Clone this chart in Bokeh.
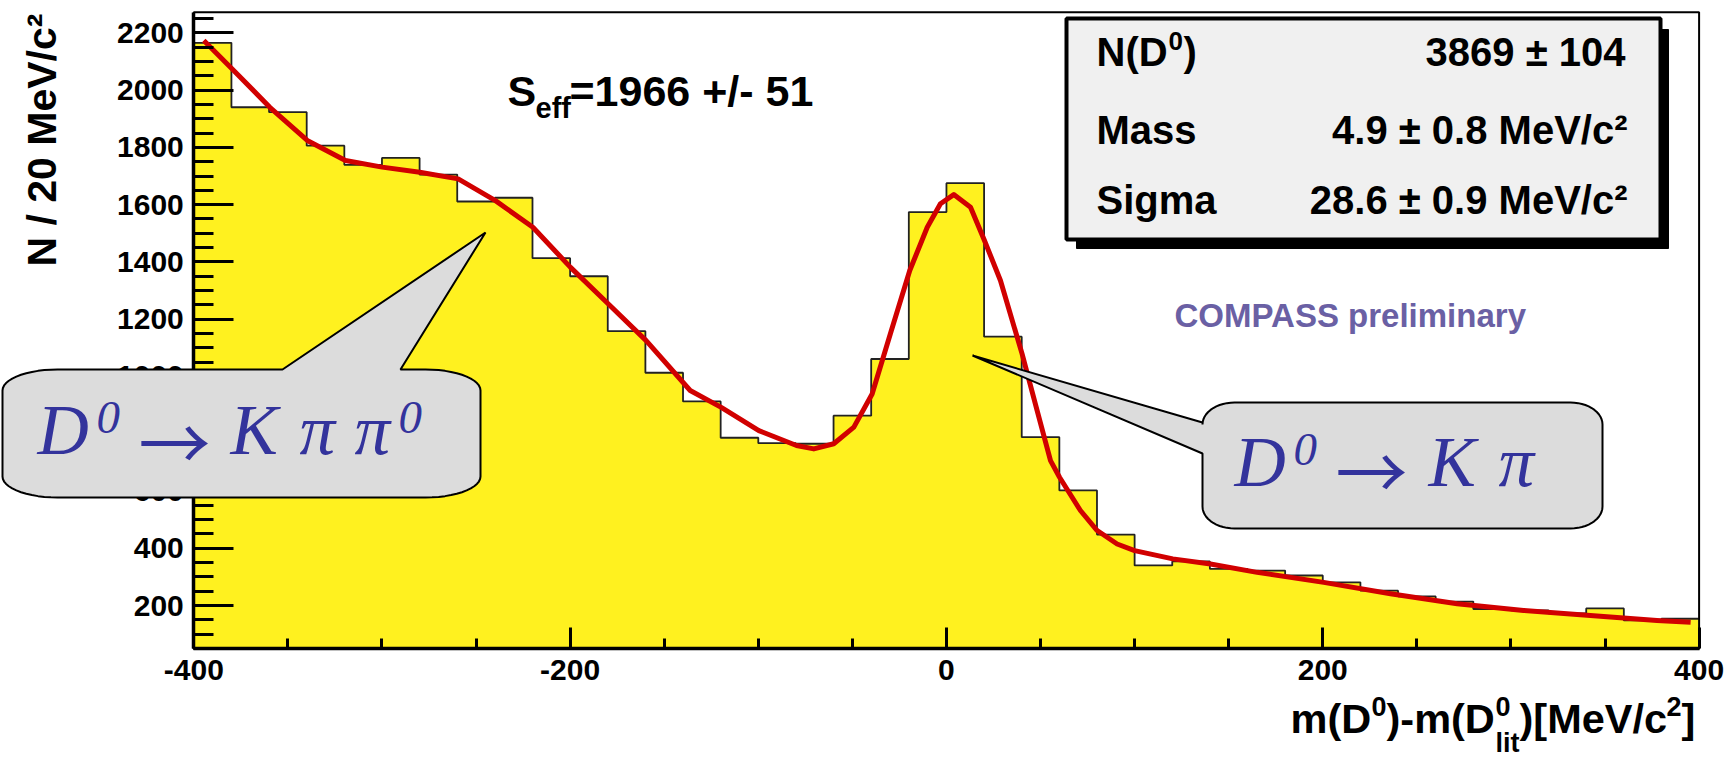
import numpy as np
from bokeh.plotting import figure
from bokeh.models import FixedTicker, Range1d, Label, BoxAnnotation, PolyAnnotation
from bokeh.embed import file_html
from bokeh.resources import INLINE

# ---------------- data ----------------
bin_edges = [-400, -380, -360, -340, -320, -300, -280, -260, -240, -220,
             -200, -180, -160, -140, -120, -100, -80, -60, -40, -20,
             0, 20, 40, 60, 80, 100, 120, 140, 160, 180,
             200, 220, 240, 260, 280, 300, 320, 340, 360, 380, 400]
counts = [2165, 1940, 1923, 1806, 1739, 1763, 1705, 1611, 1624, 1413,
          1350, 1158, 1013, 913, 786, 767, 765, 863, 1061, 1574,
          1675, 1139, 788, 602, 448, 340, 354, 328, 322, 305,
          281, 252, 232, 214, 188, 183, 173, 190, 148, 154]
fit_x = [-394.7, -379.6, -359.6, -339.7, -319.4, -299.9, -279.9, -259.5, -239.7, -219.8,
         -199.8, -179.8, -159.6, -136.2, -119.7, -99.7, -79.7, -70.5, -59.9, -49.2,
         -39.5, -29.8, -19.5, -10.2, -3.2, 3.9, 12.8, 20.2, 28.7, 40.2,
         48.2, 55.3, 60.1, 71.2, 80.1, 90.7, 100.0, 120.3, 140.3, 165.1,
         200.5, 236.0, 271.4, 306.7, 342.2, 377.6, 395.5]
fit_y = [2173, 2074, 1940, 1824, 1754, 1731, 1713, 1690, 1614, 1521,
         1381, 1254, 1125, 951, 892, 811, 759, 747, 765, 823,
         939, 1149, 1370, 1521, 1603, 1635, 1591, 1475, 1335, 1079,
         881, 706, 648, 532, 462, 415, 392, 363, 345, 316,
         281, 241, 206, 183, 165, 148, 142]
x_major = [-400, -200, 0, 200, 400]
x_minor = [-350, -300, -250, -150, -100, -50, 50, 100, 150, 250, 300, 350]
y_major = [200, 400, 600, 800, 1000, 1200, 1400, 1600, 1800, 2000, 2200]
y_minor = [v for v in range(50, 2300, 50) if v % 200 != 0 and v < 2272]
x_labels = {-400: "-400", -200: "-200", 0: "0", 200: "200", 400: "400"}

# visible axis box (data units)
XL, XR, YB, YT = -400, 400, 49, 2272

YELLOW = "#fff11f"
RED = "#d10000"
BLUE = "#33339c"

# page-pixel <-> data mapping of the axis box (left 193.3, right 1698.6, top 11.7, bottom 648.3)
PL, PR, PT, PB = 193.3, 1698.6, 11.7, 648.3
def X(px):
    return XL + (px - PL) * (XR - XL) / (PR - PL)
def Y(py):
    return YB + (PB - py) * (YT - YB) / (PB - PT)

W, H = 1727, 759
p = figure(width=W, height=H, x_range=Range1d(X(0), X(W)), y_range=Range1d(Y(H), Y(0)),
           output_backend="svg", toolbar_location=None,
           min_border_left=0, min_border_right=0, min_border_top=0, min_border_bottom=0)
p.grid.visible = False
p.background_fill_color = "white"
p.border_fill_color = "white"
p.outline_line_color = None

# histogram
p.varea_step(x=bin_edges, y1=[YB] * len(bin_edges), y2=counts + [counts[-1]],
             step_mode="after", fill_color=YELLOW)
p.step(x=bin_edges, y=counts + [counts[-1]], mode="after", line_color="#222222", line_width=1.8)
p.line(fit_x, fit_y, line_color=RED, line_width=5, line_join="round")

# axes at the edges of the axis box
p.xaxis.fixed_location = YB
p.xaxis.bounds = (XL, XR)
p.yaxis.fixed_location = XL
p.yaxis.bounds = (YB, YT)
for ax, major, minor, tin, mtin in ((p.xaxis, x_major, x_minor, 21, 10),
                                    (p.yaxis, y_major, y_minor, 40, 20)):
    ax.ticker = FixedTicker(ticks=major, minor_ticks=minor)
    ax.axis_line_width = 3.5
    ax.axis_line_color = "black"
    ax.major_tick_in = tin
    ax.major_tick_out = 0
    ax.minor_tick_in = mtin
    ax.minor_tick_out = 0
    ax.major_tick_line_width = 3
    ax.minor_tick_line_width = 3
    ax.major_label_text_font = "Liberation Sans"
    ax.major_label_text_font_style = "bold"
    ax.major_label_text_font_size = "30px"
    ax.major_label_text_color = "black"
p.xaxis.major_label_overrides = x_labels
p.xaxis.major_label_standoff = 11
p.yaxis.major_label_standoff = 10

# top / right frame lines
p.add_layout(BoxAnnotation(left=XL, right=XR, bottom=YB, top=YT, fill_alpha=0,
                           line_color="black", line_alpha=1, line_width=2))

K_TXT = 0.38   # empirical shift so that the given y is the visual baseline

def lab(px, py, text, size, color="black", font="Liberation Sans", style="bold",
        align="left", angle=0.0):
    if angle:
        px = px - K_TXT * size
    else:
        py = py - K_TXT * size
    p.add_layout(Label(x=X(px), y=Y(py), text=text, text_font=font,
                       text_font_size=f"{size}px", text_font_style=style,
                       text_color=color, text_align=align, text_baseline="alphabetic",
                       angle=angle))

# axis titles
lab(57, 266, "N / 20 MeV/c\u00b2", 41, angle=np.pi / 2)
lab(1290, 734, "m(D", 41.5)
lab(1371, 716, "0", 27)
lab(1386, 734, ")-m(D", 41.5)
lab(1495, 716, "0", 27)
lab(1495, 753, "lit", 27)
lab(1519, 734, ")[MeV/c", 41.5)
lab(1666, 716, "2", 27)
lab(1681, 734, "]", 41.5)

# S_eff text
lab(507, 106.7, "S", 43)
lab(535, 118.3, "eff", 29)
lab(569, 106.7, "=1966 +/- 51", 43)

# stats box
p.add_layout(BoxAnnotation(left=X(1076), right=X(1668), top=Y(29), bottom=Y(248),
                           fill_color="black", fill_alpha=1, line_color="black", line_alpha=1))
p.add_layout(BoxAnnotation(left=X(1066), right=X(1660), top=Y(18), bottom=Y(239),
                           fill_color="#f0f0f0", fill_alpha=1, line_color="black",
                           line_alpha=1, line_width=4))
lab(1096, 66.7, "N(D", 40)
lab(1168, 50, "0", 26)
lab(1183, 66.7, ")", 40)
lab(1625, 66.7, "3869 \u00b1 104", 40, align="right")
lab(1096, 145, "Mass", 40)
lab(1627, 145, "4.9 \u00b1 0.8 MeV/c\u00b2", 40, align="right")
lab(1096, 215, "Sigma", 40)
lab(1627, 215, "28.6 \u00b1 0.9 MeV/c\u00b2", 40, align="right")

lab(1174, 328, "COMPASS preliminary", 33, color="#6a60a4")

# callouts
def rounded_callout(x0, x1, y0, y1, rx, ry, pointer):
    def arc(cx, cy, a0, a1):
        t = np.linspace(a0, a1, 14)
        return list(cx + rx * np.cos(t)), list(cy + ry * np.sin(t))
    xs, ys = [], []
    if pointer[0] == "top":
        xs += [x0 + rx, pointer[1], pointer[3], pointer[2], x1 - rx]
        ys += [y0, y0, pointer[4], y0, y0]
    else:
        xs += [x0 + rx, x1 - rx]
        ys += [y0, y0]
    ax_, ay_ = arc(x1 - rx, y0 + ry, -np.pi / 2, 0)
    xs += ax_; ys += ay_
    ax_, ay_ = arc(x1 - rx, y1 - ry, 0, np.pi / 2)
    xs += ax_; ys += ay_
    ax_, ay_ = arc(x0 + rx, y1 - ry, np.pi / 2, np.pi)
    xs += ax_; ys += ay_
    if pointer[0] == "left":
        xs += [x0, pointer[3], x0]
        ys += [pointer[2], pointer[4], pointer[1]]
    ax_, ay_ = arc(x0 + rx, y0 + ry, np.pi, 1.5 * np.pi)
    xs += ax_; ys += ay_
    p.add_layout(PolyAnnotation(xs=[X(v) for v in xs], ys=[Y(v) for v in ys],
                                fill_color="#dcdcdc", fill_alpha=1,
                                line_color="black", line_alpha=1, line_width=2))

rounded_callout(2, 480, 369, 497, 55, 21, ("top", 282, 400, 485, 232))
rounded_callout(1202, 1602, 402, 528, 32, 22, ("left", 422, 453, 972, 355))

SERIF = "Liberation Serif"
ARROW_FONT = "Noto Sans CJK SC"
lab(37, 456.7, "D", 71, color=BLUE, font=SERIF, style="italic")
lab(96, 435, "0", 47, color=BLUE, font=SERIF, style="italic")
lab(138, 465, "\u2192", 72, color=BLUE, font=ARROW_FONT, style="normal")
lab(230, 456.7, "K", 71, color=BLUE, font=SERIF, style="italic")
lab(299, 456.7, "\u03c0", 71, color=BLUE, font=SERIF, style="italic")
lab(354, 456.7, "\u03c0", 71, color=BLUE, font=SERIF, style="italic")
lab(398, 435, "0", 47, color=BLUE, font=SERIF, style="italic")

lab(1234, 488.3, "D", 71, color=BLUE, font=SERIF, style="italic")
lab(1293, 466.7, "0", 47, color=BLUE, font=SERIF, style="italic")
lab(1335, 494, "\u2192", 72, color=BLUE, font=ARROW_FONT, style="normal")
lab(1428, 488.3, "K", 71, color=BLUE, font=SERIF, style="italic")
lab(1498, 488.3, "\u03c0", 71, color=BLUE, font=SERIF, style="italic")

open("out.html", "w").write(file_html(p, INLINE))
